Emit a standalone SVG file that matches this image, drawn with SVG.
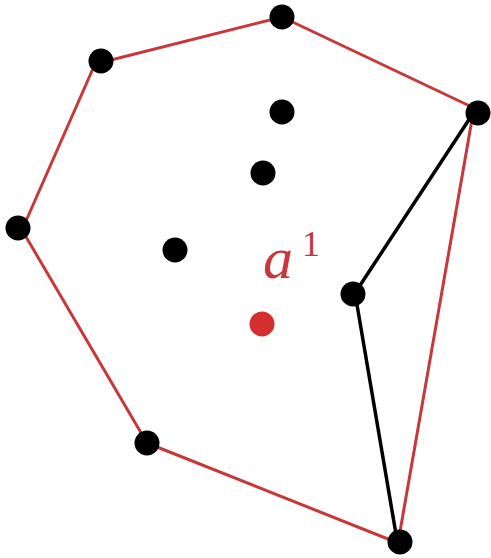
<svg xmlns="http://www.w3.org/2000/svg" width="491" height="558" viewBox="0 0 491 558">
<style>
.pt{fill:#000}
.hull{fill:none;stroke:#c8383a;stroke-width:3;stroke-linejoin:round}
.edge{fill:none;stroke:#000;stroke-width:3.5;stroke-linecap:round}
.lbl{fill:#c8383a;font-family:"Liberation Serif",serif;font-style:italic}
</style>
<rect width="491" height="558" fill="#fff"/>
<g id="connectors">
<polyline class="edge" points="474,112 355,293 397,540"/>
<polygon class="hull" points="282,17 474,108 398,543 147,443 22,230 95,64"/>
</g>
<g id="p1"><circle class="pt" cx="282" cy="17" r="12.5"/></g>
<g id="p2"><circle class="pt" cx="101" cy="61" r="12.5"/></g>
<g id="p3"><circle class="pt" cx="478" cy="113" r="12.5"/></g>
<g id="p4"><circle class="pt" cx="18" cy="228" r="12.5"/></g>
<g id="p5"><circle class="pt" cx="282" cy="112" r="12.5"/></g>
<g id="p6"><circle class="pt" cx="263" cy="173" r="12.5"/></g>
<g id="p7"><circle class="pt" cx="175" cy="250" r="12.5"/></g>
<g id="p8"><circle class="pt" cx="353" cy="294" r="12.5"/></g>
<g id="p9"><circle class="pt" cx="147" cy="443" r="12.5"/></g>
<g id="p10"><circle class="pt" cx="400" cy="542" r="12.5"/></g>
<g id="a1"><circle cx="262" cy="324" r="12.5" fill="#d32f2f"/>
<text class="lbl" x="263" y="278" font-size="60">a</text>
<text x="302" y="256" font-size="36" fill="#c8383a" font-family="'Liberation Serif',serif">1</text>
</g>
</svg>
